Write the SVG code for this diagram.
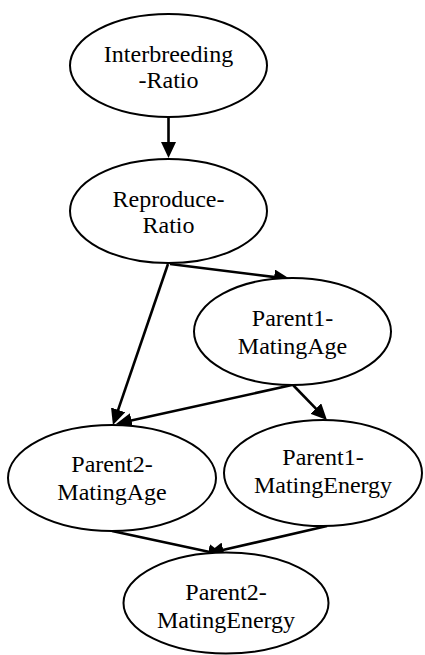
<svg xmlns="http://www.w3.org/2000/svg" width="425" height="655" viewBox="0 0 425 655">
<style>
.n ellipse{fill:#fff;stroke:#000;stroke-width:2}
.n text{font-family:"Liberation Serif","Times New Roman",serif;font-size:24px;text-anchor:middle;fill:#000}
.e line{stroke:#000;stroke-width:2.6;marker-end:url(#ah)}
</style>
<defs>
<marker id="ah" viewBox="0 0 16 15" refX="5" refY="7.5" markerWidth="16" markerHeight="15" markerUnits="userSpaceOnUse" orient="auto">
<path d="M0,0 L16,7.5 L0,15 z" fill="#000"/>
</marker>
</defs>
<rect width="425" height="655" fill="#fff"/>
<g class="e" id="edges">
<line x1="168.5" y1="117" x2="168.5" y2="147"/>
<line x1="170" y1="264" x2="279.1" y2="277.6"/>
<line x1="168" y1="264" x2="116.5" y2="414.6"/>
<line x1="292" y1="385" x2="126.7" y2="421.6"/>
<line x1="293" y1="385" x2="319.3" y2="412.1"/>
<line x1="112" y1="531" x2="213.2" y2="552.7"/>
<line x1="327" y1="526" x2="218.4" y2="551"/>
</g>
<g class="n" id="interbreeding-ratio">
<ellipse cx="168.5" cy="65.5" rx="98.5" ry="51.5"/>
<text x="168.5" y="62">Interbreeding</text>
<text x="168.5" y="88">-Ratio</text>
</g>
<g class="n" id="reproduce-ratio">
<ellipse cx="168.5" cy="211" rx="98.5" ry="52"/>
<text x="168.5" y="207">Reproduce-</text>
<text x="168.5" y="233">Ratio</text>
</g>
<g class="n" id="parent1-matingage">
<ellipse cx="292.5" cy="331.5" rx="98.5" ry="53.5"/>
<text x="292.5" y="326">Parent1-</text>
<text x="292.5" y="354">MatingAge</text>
</g>
<g class="n" id="parent2-matingage">
<ellipse cx="112" cy="478" rx="104" ry="53"/>
<text x="112" y="472">Parent2-</text>
<text x="112" y="500">MatingAge</text>
</g>
<g class="n" id="parent1-matingenergy">
<ellipse cx="323" cy="473" rx="99" ry="53"/>
<text x="323" y="465">Parent1-</text>
<text x="323" y="493">MatingEnergy</text>
</g>
<g class="n" id="parent2-matingenergy">
<ellipse cx="226" cy="603" rx="102.5" ry="50.5"/>
<text x="226" y="600">Parent2-</text>
<text x="226" y="628">MatingEnergy</text>
</g>
</svg>
